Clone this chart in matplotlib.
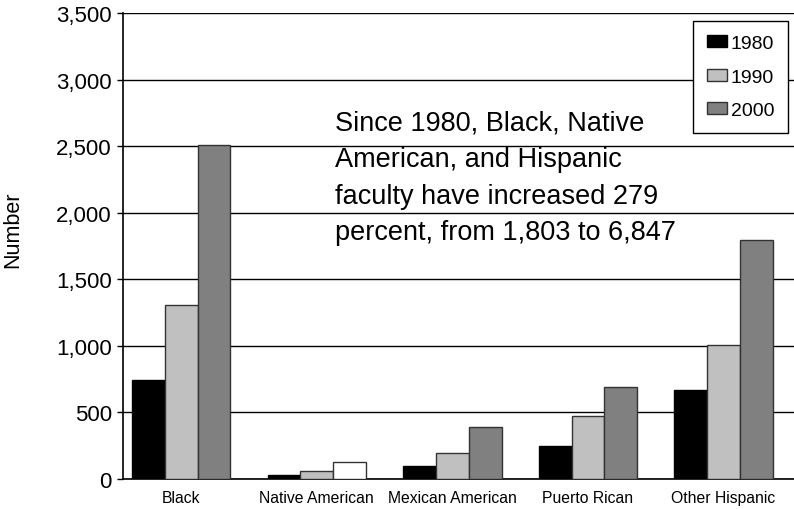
import matplotlib
matplotlib.use("Agg")
import matplotlib.pyplot as plt
import numpy as np
from matplotlib.ticker import FuncFormatter

plt.rcParams["font.family"] = ["Liberation Sans", "DejaVu Sans"]

groups = ["Black", "Native American", "Mexican American", "Puerto Rican", "Other Hispanic"]
years = ["1980", "1990", "2000"]
v1980 = [746, 30, 100, 250, 667]
v1990 = [1306, 60, 192, 470, 1010]
v2000 = [2512, 125, 388, 692, 1792]
colors = ["#000000", "#c0c0c0", "#808080"]
note = ("Since 1980, Black, Native\nAmerican, and Hispanic\n"
        "faculty have increased 279\npercent, from 1,803 to 6,847")

fig = plt.figure(figsize=(7.94, 5.10), dpi=100)
ax = fig.add_axes([123 / 794, 1 - 480 / 510, 671 / 794, 466 / 510])

x = np.arange(len(groups))
w = 0.242
series = [v1980, v1990, v2000]
bar_sets = []
for i, (vals, c, yr) in enumerate(zip(series, colors, years)):
    edge = "#000000" if i == 0 else "#333333"
    b = ax.bar(x + (i - 1) * w, vals, w, color=c, edgecolor=edge, linewidth=1.0,
               label=yr, zorder=3)
    bar_sets.append(b)
# the 2000 Native American bar is drawn unfilled in the original
bar_sets[2][1].set_facecolor("white")

ax.set_ylim(0, 3500)
ax.set_xlim(-0.43, 4.52)
ax.set_yticks(np.arange(0, 3501, 500))
ax.yaxis.set_major_formatter(FuncFormatter(lambda v, p: f"{int(v):,}"))
ax.tick_params(axis="y", labelsize=16, length=4, width=1, direction="out", pad=4)
ax.set_xticks(x)
ax.set_xticklabels(groups, fontsize=11.3)
ax.tick_params(axis="x", length=0, pad=8)
ax.grid(axis="y", color="black", linewidth=1, zorder=0)
for s in ["top", "right"]:
    ax.spines[s].set_visible(False)
ax.spines["left"].set_linewidth(1.2)
ax.spines["bottom"].set_linewidth(1.2)
ax.set_ylabel("Number", fontsize=15.5)
ax.yaxis.set_label_coords(-100 / 671, (480 - 230) / 466)

fig.text(335 / 794, 1 - 111 / 510, note, fontsize=19.5, va="top", ha="left",
         linespacing=1.52)

leg = ax.legend(loc="upper right", bbox_to_anchor=(788 / 794, 1 - 22 / 510),
                bbox_transform=fig.transFigure, fontsize=14, frameon=True,
                fancybox=False, edgecolor="black", framealpha=1,
                handlelength=1.0, handleheight=0.6, handletextpad=0.2,
                labelspacing=0.85, borderpad=0.72, borderaxespad=0)
leg.get_frame().set_linewidth(1.0)

fig.savefig("out.png", dpi=100)
